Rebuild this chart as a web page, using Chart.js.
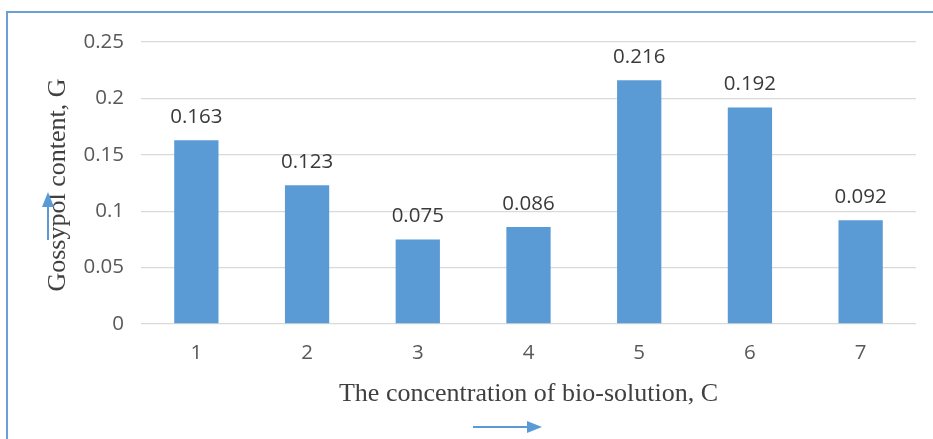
<!DOCTYPE html>
<html>
<head>
<meta charset="utf-8">
<script src="https://cdn.jsdelivr.net/npm/chart.js@4.4.1/dist/chart.umd.min.js"></script>
<style>
  html, body { margin: 0; padding: 0; background: #ffffff; }
  #wrap { width: 933px; height: 439px; position: relative; }
</style>
</head>
<body>
<div id="wrap"><canvas id="c" width="933" height="439"></canvas></div>
<script>
// Gossypol content measured for each bio-solution concentration
const categories = ['1', '2', '3', '4', '5', '6', '7'];
const gossypol = [0.163, 0.123, 0.075, 0.086, 0.216, 0.192, 0.092];
const yTickValues = [0, 0.05, 0.1, 0.15, 0.2, 0.25];
const yTickLabels = ['0', '0.05', '0.1', '0.15', '0.2', '0.25'];
const xTitle = 'The concentration of bio-solution, C';
const yTitle = 'Gossypol content, G';

const BLUE = '#5b9bd5';
const SANS = '"Open Sans", "Liberation Sans", sans-serif';
const SERIF = '"Liberation Serif", "DejaVu Serif", serif';

// Frame, axis titles with direction arrows, and value labels above bars
const decorations = {
  id: 'decorations',
  afterDatasetsDraw(chart) {
    const ctx = chart.ctx;
    const area = chart.chartArea;
    ctx.save();

    // outer frame (open on the right and bottom)
    ctx.strokeStyle = '#6b9fd6';
    ctx.lineWidth = 2;
    ctx.beginPath();
    ctx.moveTo(7, 445);
    ctx.lineTo(7, 12);
    ctx.lineTo(940, 12);
    ctx.stroke();

    // value labels
    const meta = chart.getDatasetMeta(0);
    ctx.fillStyle = '#3a3a3a';
    ctx.font = '20.5px ' + SANS;
    ctx.textAlign = 'center';
    ctx.textBaseline = 'middle';
    meta.data.forEach((bar, i) => {
      ctx.fillText(String(gossypol[i]), bar.x, bar.y - 23);
    });

    // x axis title
    const cx = (area.left + area.right) / 2;
    ctx.fillStyle = '#404040';
    ctx.font = '26px ' + SERIF;
    ctx.textBaseline = 'middle';
    ctx.fillText(xTitle, cx, 394);

    // y axis title (rotated)
    ctx.save();
    ctx.translate(58, 185);
    ctx.rotate(-Math.PI / 2);
    ctx.fillText(yTitle, 0, 0);
    ctx.restore();

    // arrows
    ctx.strokeStyle = BLUE;
    ctx.fillStyle = BLUE;
    ctx.lineWidth = 2;
    // right-pointing arrow under the x title
    ctx.beginPath();
    ctx.moveTo(473, 427);
    ctx.lineTo(530, 427);
    ctx.stroke();
    ctx.beginPath();
    ctx.moveTo(542, 427);
    ctx.lineTo(527, 421);
    ctx.lineTo(527, 433);
    ctx.closePath();
    ctx.fill();
    // up-pointing arrow over the y title
    ctx.beginPath();
    ctx.moveTo(48, 240);
    ctx.lineTo(48, 205);
    ctx.stroke();
    ctx.beginPath();
    ctx.moveTo(48, 192);
    ctx.lineTo(42, 207);
    ctx.lineTo(54, 207);
    ctx.closePath();
    ctx.fill();

    ctx.restore();
  }
};

new Chart(document.getElementById('c'), {
  type: 'bar',
  data: {
    labels: categories,
    datasets: [{
      data: gossypol,
      backgroundColor: BLUE,
      borderWidth: 0,
      barPercentage: 0.4,
      categoryPercentage: 1.0
    }]
  },
  options: {
    responsive: false,
    animation: false,
    layout: { padding: { left: 0, right: 17, top: 42, bottom: 0 } },
    plugins: {
      legend: { display: false },
      tooltip: { enabled: false }
    },
    scales: {
      x: {
        grid: { display: false, drawTicks: false },
        border: { display: false },
        ticks: {
          color: '#595959',
          font: { family: SANS, size: 20.5 },
          padding: 17
        },
        afterFit(scale) { scale.height = 115; }
      },
      y: {
        min: 0,
        max: 0.25,
        afterBuildTicks(scale) {
          scale.ticks = yTickValues.map(v => ({ value: v }));
        },
        grid: { color: '#d9d9d9', lineWidth: 1.3, drawTicks: false },
        border: { display: false },
        ticks: {
          color: '#595959',
          font: { family: SANS, size: 20.5 },
          padding: 17,
          callback(value) {
            const i = yTickValues.findIndex(v => Math.abs(v - value) < 1e-9);
            return i >= 0 ? yTickLabels[i] : '';
          }
        },
        afterFit(scale) { scale.width = 141; }
      }
    }
  },
  plugins: [decorations]
});
</script>
</body>
</html>
